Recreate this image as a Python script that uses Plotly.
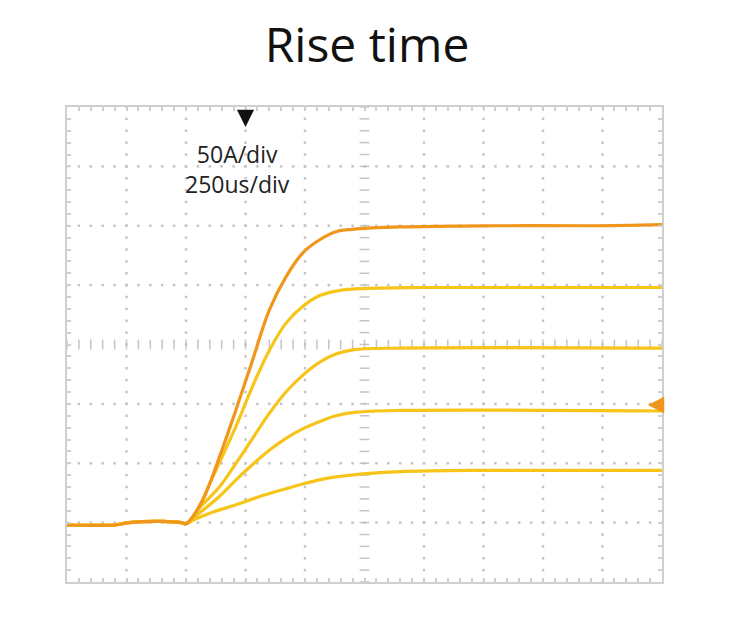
import numpy as np
import plotly.graph_objects as go

# time in us (250us/div), current in A (50A/div)
t_base = [0, 200, 260, 400, 480, 500]
i_base = [0, 0, 2, 3, 2, 1]

t_250 = [500, 570, 640, 710, 780, 850, 920, 990, 1060, 1130, 1200, 1400, 1800, 2200, 2500]
i_250 = [1, 21, 57, 97, 139, 181, 209, 229, 240, 247, 249, 251, 252, 252, 253]

t_200 = [500, 545, 600, 710, 780, 850, 920, 990, 1060, 1130, 1230, 1500, 2500]
i_200 = [1, 11, 35, 83, 117, 147, 170, 184, 193, 197, 199, 200, 200]

t_150 = [500, 560, 640, 710, 780, 850, 920, 990, 1060, 1130, 1200, 1400, 2500]
i_150 = [1, 15, 32, 52, 73, 94, 112, 126, 137, 144, 147.5, 149, 149]

t_100 = [500, 550, 640, 710, 780, 850, 920, 990, 1060, 1130, 1215, 1400, 2500]
i_100 = [1, 9, 24, 38, 51, 63, 73, 81, 87, 92, 95, 96.5, 96]

t_50 = [500, 540, 600, 710, 810, 920, 990, 1060, 1130, 1270, 1400, 1700, 2500]
i_50 = [1, 5, 10, 17, 24, 30.5, 34.5, 38, 40.5, 43.5, 45, 46, 46]

ORANGE = "#F1961C"
YELLOW = "#F7C419"
GRID = "#c4c4c4"

X0, X1 = 0, 2500
Y0, Y1 = -48, 352
xdiv = (X1 - X0) / 10
ydiv = (Y1 - Y0) / 8

fig = go.Figure()

# graticule dots
gx, gy = [], []
for k in range(1, 10):
    if k == 5:
        continue
    for y in np.arange(Y0, Y1 + 0.01, ydiv / 5):
        gx.append(X0 + k * xdiv)
        gy.append(y)
for k in range(1, 8):
    if k == 4:
        continue
    for x in np.arange(X0, X1 + 0.01, xdiv / 5):
        gx.append(x)
        gy.append(Y0 + k * ydiv)
fig.add_trace(go.Scatter(x=gx, y=gy, mode="markers", hoverinfo="skip",
                         marker=dict(symbol="square", size=2.5, color=GRID, line_width=0)))

# centre cross with short dashes
cx = np.arange(X0, X1 + 0.01, xdiv / 5)
fig.add_trace(go.Scatter(x=cx, y=[Y0 + 4 * ydiv] * len(cx), mode="markers", hoverinfo="skip",
                         marker=dict(symbol="line-ns", size=7, line=dict(color=GRID, width=1.5))))
cy = np.arange(Y0, Y1 + 0.01, ydiv / 5)
fig.add_trace(go.Scatter(x=[X0 + 5 * xdiv] * len(cy), y=cy, mode="markers", hoverinfo="skip",
                         marker=dict(symbol="line-ew", size=7, line=dict(color=GRID, width=1.5))))

# waveforms
t_pre = t_base[:-1]
i_pre = i_base[:-1]
for t, i in [(t_50, i_50), (t_100, i_100), (t_150, i_150), (t_200, i_200)]:
    fig.add_trace(go.Scatter(x=t_pre + t, y=i_pre + i, mode="lines", hoverinfo="skip",
                             line=dict(color=YELLOW, width=3.2, shape="spline", smoothing=1)))
fig.add_trace(go.Scatter(x=t_pre + t_250, y=i_pre + i_250, mode="lines", hoverinfo="skip",
                         line=dict(color=ORANGE, width=3.2, shape="spline", smoothing=1)))

fig.add_annotation(x=750, y=0.958, xref="x", yref="paper", text="", showarrow=True,
                   ax=0, ay=-18, arrowhead=2, arrowsize=1.9, arrowwidth=1.8, arrowcolor="#111")
fig.add_annotation(x=2440, y=101, text="", showarrow=True, ax=14, ay=0,
                   arrowhead=2, arrowsize=1.1, arrowwidth=3, arrowcolor=ORANGE)
fig.add_annotation(x=717, y=0.94, xref="x", yref="paper", text="50A/div<br>250us/div",
                   showarrow=False, yanchor="top", align="center",
                   font=dict(family="Open Sans", size=23, color="#222"))

fig.update_layout(
    width=718, height=610,
    margin=dict(l=59, r=64, t=99, b=36),
    paper_bgcolor="white", plot_bgcolor="white",
    showlegend=False,
    title=dict(text="Rise time", x=0.5, xanchor="center", y=1 - 37 / 610, yanchor="middle",
               font=dict(family="Open Sans", size=48, color="#111")),
)
axis_style = dict(showgrid=False, zeroline=False, showticklabels=False,
                  showline=True, mirror="ticks", linecolor="#cfcfcf", linewidth=2,
                  ticks="inside", ticklen=4, tickcolor="#cfcfcf", tickwidth=1.5)
fig.update_xaxes(range=[X0, X1], tick0=X0, dtick=xdiv / 5, **axis_style)
fig.update_yaxes(range=[Y0, Y1], tick0=Y0, dtick=ydiv / 5, **axis_style)

fig.write_html("out.html")
